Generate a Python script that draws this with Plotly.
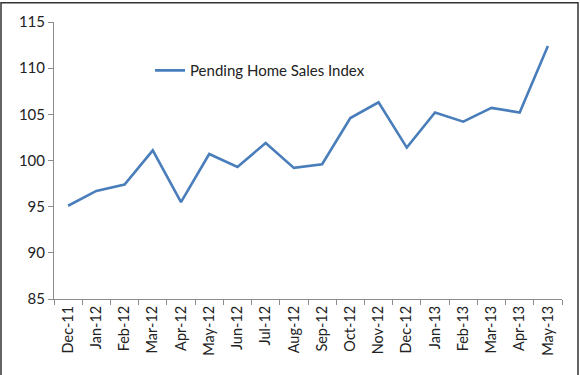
import plotly.graph_objects as go

months = ["Dec-11", "Jan-12", "Feb-12", "Mar-12", "Apr-12", "May-12", "Jun-12", "Jul-12",
          "Aug-12", "Sep-12", "Oct-12", "Nov-12", "Dec-12", "Jan-13", "Feb-13", "Mar-13",
          "Apr-13", "May-13"]
index_values = [95.1, 96.7, 97.4, 101.1, 95.5, 100.7, 99.3, 101.9,
                99.2, 99.6, 104.6, 106.3, 101.4, 105.2, 104.2, 105.7,
                105.2, 112.4]
series_name = "Pending Home Sales Index"
y_ticks = [85, 90, 95, 100, 105, 110, 115]

W, H = 580, 375
L, R, T, B = 54, 18, 20, 76
pw, ph = W - L - R, H - T - B

def px_x(p):
    return (p - L) / pw

def px_y(p):
    return 1 - (p - T) / ph

fig = go.Figure()
fig.add_trace(go.Scatter(
    x=months, y=index_values, mode="lines", name=series_name,
    line=dict(color="#4A7EBB", width=2.6),
))

fig.update_layout(
    width=W, height=H,
    margin=dict(l=L, r=R, t=T, b=B),
    paper_bgcolor="white", plot_bgcolor="white",
    font=dict(family="Lato, Open Sans, sans-serif", size=14, color="#222"),
    showlegend=True,
    legend=dict(x=px_x(150), y=px_y(69), xanchor="left", yanchor="middle",
                bgcolor="rgba(0,0,0,0)", font=dict(size=15, color="#222"),
                itemwidth=30),
    xaxis=dict(type="category", showgrid=False, showline=True, linecolor="#8c8c8c",
               linewidth=1, ticks="outside", tickson="boundaries", ticklen=5,
               tickcolor="#8c8c8c", tickangle=-90, tickfont=dict(size=14.5),
               range=[-0.5, len(months) - 0.5]),
    yaxis=dict(range=[85, 115], tickvals=y_ticks, showgrid=False, showline=True,
               linecolor="#8c8c8c", linewidth=1, ticks="outside", ticklen=5,
               tickcolor="#8c8c8c", tickfont=dict(size=15), zeroline=False),
    shapes=[dict(type="rect", xref="paper", yref="paper",
                 x0=px_x(1), x1=px_x(578), y0=px_y(400), y1=px_y(0.5),
                 line=dict(color="#333", width=1.5), fillcolor="rgba(0,0,0,0)",
                 layer="below")],
)

fig.write_html("out.html", config={"displayModeBar": False},
               post_script="document.body.style.margin='0';document.body.style.overflow='hidden';")
